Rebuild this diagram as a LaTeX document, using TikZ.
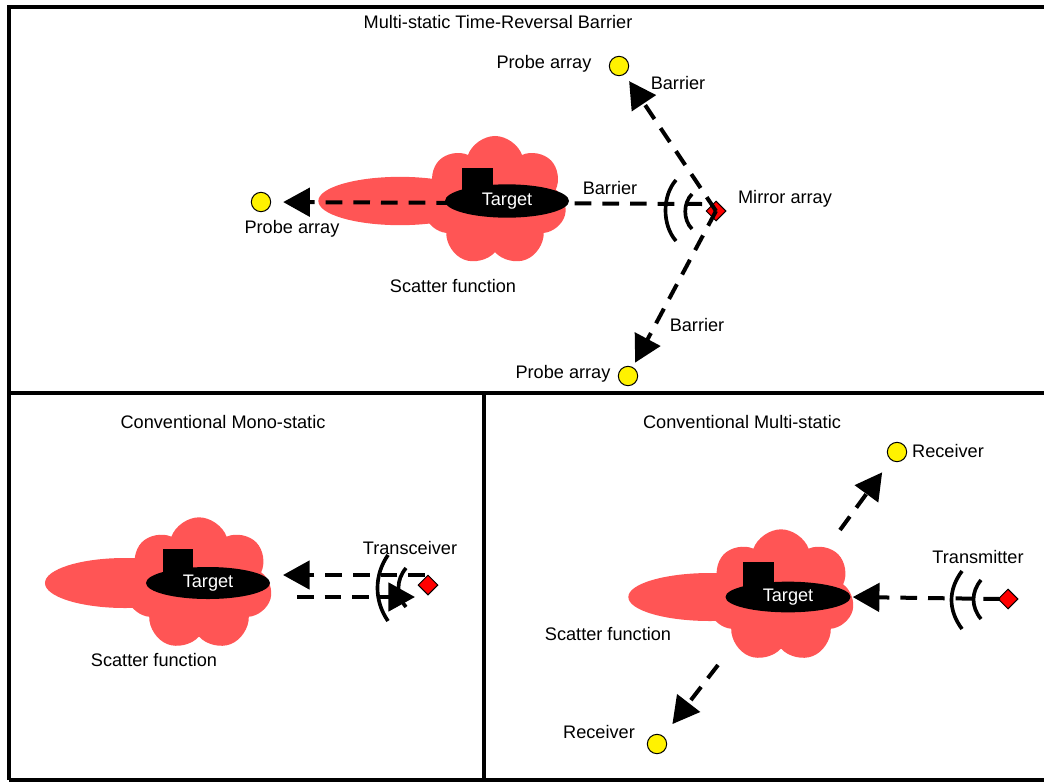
\documentclass[tikz,border=0pt]{standalone}
\usepackage{fontspec}
\setmainfont{Liberation Sans}
\usetikzlibrary{shapes,arrows.meta}
\definecolor{scattercol}{RGB}{255,85,85}

\begin{document}
\begin{tikzpicture}[x=0.03cm, y=-0.03cm,
  lbl/.style={font=\fontsize{15.5}{17}\selectfont, inner sep=0pt},
  probe/.style={circle, draw, line width=0.03cm, fill=yellow, minimum size=0.58cm, inner sep=0pt},
  mirror/.style={diamond, draw, line width=0.03cm, fill=red, minimum size=0.6cm, inner sep=0pt},
  blob/.style={cloud, cloud puffs=7, cloud puff arc=140, fill=scattercol, inner sep=0pt},
  lobe/.style={ellipse, fill=scattercol, inner sep=0pt},
  hull/.style={ellipse, fill=black, text=white, inner sep=0pt, font=\fontsize{15.5}{17}\selectfont},
  beam/.style={line width=0.12cm, dash pattern=on 0.5cm off 0.33cm, -{Triangle[length=0.8cm,width=0.85cm]}},
  wave/.style={line width=0.11cm}]
\useasboundingbox (0,0) rectangle (1044,782);

% frames
\draw[line width=0.12cm] (9,780) -- (9,7) -- (1060,7);
\draw[line width=0.12cm] (9,780) -- (1060,780);
\draw[line width=0.12cm] (9,393) -- (1060,393);
\draw[line width=0.12cm] (484,393) -- (484,782);

% ---------------- time-reversal barrier
\node[lbl] (titleTR) at (498,22) {Multi-static Time-Reversal Barrier};
\node[lobe, minimum width=4.9cm, minimum height=1.45cm] (lobeT) at (400,201) {};
\node[blob, minimum width=4.3cm, minimum height=3.9cm] (blobT) at (495,201) {};
\fill (462,168) rectangle (493,192);
\node[lbl] at (453,286) {Scatter function};

\node[probe] (probeL) at (261,202) {};
\node[probe] (probeT) at (619,66) {};
\node[probe] (probeB) at (628,376) {};
\node[mirror] (mirror) at (716,211) {};
\coordinate (mirL) at (702,204);
\draw[wave] (676,180) .. controls (662,196) and (662,225) .. (676,241);
\draw[wave] (692,194) .. controls (683,203) and (683,220) .. (692,229);
\draw[beam, shorten >=0.36cm] (mirL) -- (probeL.east);
\draw[beam, shorten >=0.24cm] (mirror.center) -- (probeT);
\draw[beam, shorten >=0.15cm] (mirror.center) -- (probeB);
\node[hull, minimum width=3.72cm, minimum height=1.0cm] (targetT) at (507,201) {Target};

\node[lbl] at (292,229) {Probe array};
\node[lbl] at (544,64) {Probe array};
\node[lbl] at (563,374) {Probe array};
\node[lbl] at (678,83) {Barrier};
\node[lbl] at (610,188) {Barrier};
\node[lbl] at (697,325) {Barrier};
\node[lbl] at (785,199) {Mirror array};

% ---------------- mono-static
\node[lbl] (titleMono) at (223,422) {Conventional Mono-static};
\node[lobe, minimum width=4.8cm, minimum height=1.5cm] (lobeM) at (125,583) {};
\node[blob, minimum width=4.4cm, minimum height=4.0cm] (blobM) at (199,584) {};
\fill (163,549) rectangle (193,572);
\node[hull, minimum width=3.72cm, minimum height=0.96cm] (targetM) at (208,583) {Target};
\node[lbl] at (154,660) {Scatter function};

\node[mirror] (transceiver) at (428,585) {};
\coordinate (tcOut) at (425,575);
\coordinate (tcIn) at (283,575);
\coordinate (echoA) at (297,597);
\coordinate (echoB) at (415,597);
\draw[wave] (388,555) .. controls (374,575) and (374,601) .. (388,621);
\draw[wave] (406,568) .. controls (396,580) and (396,595) .. (406,607);
\draw[beam] (tcOut) -- (tcIn);
\draw[beam] (echoA) -- (echoB);
\node[lbl] at (410,548) {Transceiver};

% ---------------- multi-static
\node[lbl] (titleMulti) at (742,422) {Conventional Multi-static};
\node[lobe, minimum width=4.9cm, minimum height=1.44cm] (lobeR) at (710,597) {};
\node[blob, minimum width=4.4cm, minimum height=4.0cm] (blobR) at (781,596) {};
\fill (743,562) rectangle (774,587);
\node[hull, minimum width=3.75cm, minimum height=0.92cm] (targetR) at (788,597) {Target};
\node[lbl] at (608,634) {Scatter function};

\node[probe] (rxT) at (897,452) {};
\node[probe] (rxB) at (657,744) {};
\node[mirror] (transmitter) at (1008,599) {};
\coordinate (txOut) at (1000,599);
\coordinate (scA) at (840,530);
\coordinate (scB) at (718,665);
\draw[wave] (962,571) .. controls (948,590) and (948,610) .. (962,629);
\draw[wave] (981,580) .. controls (971,592) and (971,607) .. (981,619);
\draw[beam, shorten >=0.06cm] (txOut) -- (targetR.east);
\draw[beam, shorten >=0.45cm] (scA) -- (rxT);
\draw[beam, shorten >=0.45cm] (scB) -- (rxB);
\node[lbl] at (948,451) {Receiver};
\node[lbl] at (599,732) {Receiver};
\node[lbl] at (978,557) {Transmitter};
\end{tikzpicture}
\end{document}
